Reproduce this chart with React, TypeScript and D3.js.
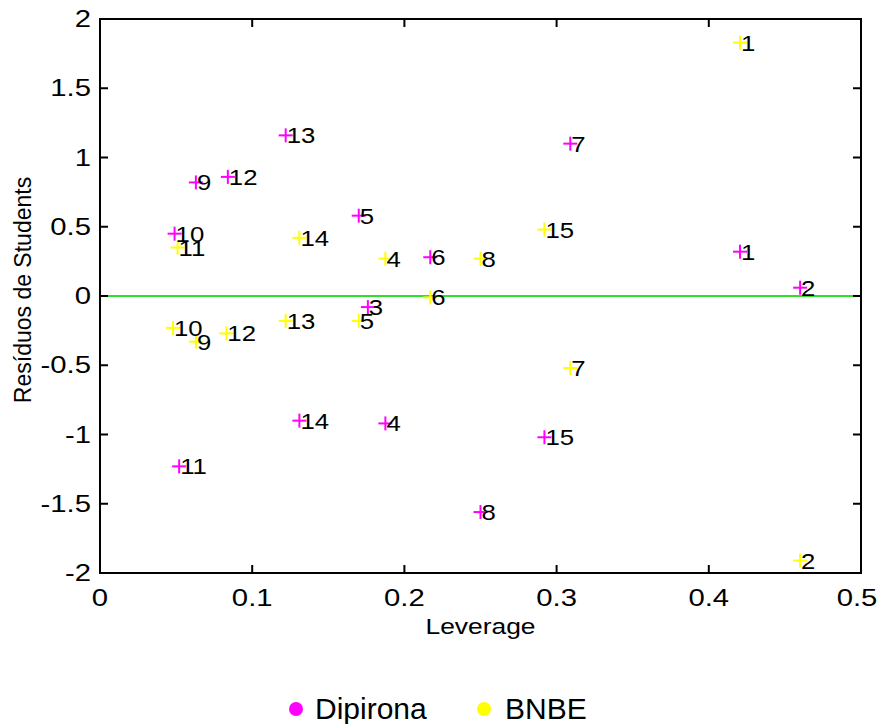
import React from "react";
import * as d3 from "d3";

const obsDipirona = ["1","2","3","4","5","6","7","8","9","10","11","12","13","14","15"];
const levDipirona = [0.4205,0.460,0.176,0.1875,0.170,0.217,0.309,0.250,0.063,0.049,0.052,0.084,0.122,0.131,0.292];
const resDipirona = [0.32,0.06,-0.08,-0.92,0.58,0.28,1.10,-1.56,0.82,0.45,-1.23,0.86,1.16,-0.90,-1.02];

const obsBNBE = ["1","2","4","5","6","7","8","9","10","11","12","13","14","15"];
const levBNBE = [0.4205,0.460,0.1875,0.170,0.217,0.309,0.250,0.063,0.048,0.051,0.083,0.122,0.131,0.292];
const resBNBE = [1.83,-1.91,0.27,-0.18,-0.01,-0.52,0.27,-0.33,-0.23,0.35,-0.27,-0.18,0.42,0.48];

const xTicks = [0,0.1,0.2,0.3,0.4,0.5];
const yTicks = [-2,-1.5,-1,-0.5,0,0.5,1,1.5,2];
const seriesNames = ["Dipirona","BNBE"];
const seriesColors = ["#ff00ff","#ffff00"];

const L = 100, R = 861, T = 19, B = 573;
const FONT = "Arial, 'Liberation Sans', Helvetica, sans-serif";
const SX = 1.22;

export default function App() {
  const x = d3.scaleLinear().domain([0, 0.5]).range([L, R]);
  const y = d3.scaleLinear().domain([-2, 2]).range([B, T]);
  const fmt = (v: number) => String(v);

  const series = [
    { obs: obsDipirona, lev: levDipirona, res: resDipirona, color: seriesColors[0] },
    { obs: obsBNBE, lev: levBNBE, res: resBNBE, color: seriesColors[1] },
  ];
  const arm = 7;

  return (
    <svg width={880} height={724} style={{ position: "absolute", left: 0, top: 0, background: "#fff" }}
      fontFamily={FONT}>
      <rect x={0} y={0} width={880} height={724} fill="#fff" />
      <line x1={L} x2={R} y1={y(0)} y2={y(0)} stroke="#2ee02e" strokeWidth={2} />
      {series.map((s, si) => (
        <g key={si}>
          {s.obs.map((o, i) => {
            const px = x(s.lev[i]), py = y(s.res[i]);
            return (
              <g key={i}>
                <line x1={px - arm} x2={px + arm} y1={py} y2={py} stroke={s.color} strokeWidth={2} />
                <line x1={px} x2={px} y1={py - arm} y2={py + arm} stroke={s.color} strokeWidth={2} />
              </g>
            );
          })}
        </g>
      ))}
      {series.map((s, si) => (
        <g key={"t" + si}>
          {s.obs.map((o, i) => {
            const px = x(s.lev[i]), py = y(s.res[i]);
            return (
              <g key={i} transform={`translate(${px + 1},${py}) scale(1.12,1)`}>
                <text x={0} y={8} fontSize={23} fill="#000">{o}</text>
              </g>
            );
          })}
        </g>
      ))}
      <rect x={L} y={T} width={R - L} height={B - T} fill="none" stroke="#000" strokeWidth={2} />
      {xTicks.map((t) => (
        <g key={"xt" + t}>
          <line x1={x(t)} x2={x(t)} y1={B} y2={B - 8} stroke="#000" strokeWidth={2} />
          <line x1={x(t)} x2={x(t)} y1={T} y2={T + 8} stroke="#000" strokeWidth={2} />
          <g transform={`translate(${Math.min(x(t), 857)},${B + 33}) scale(${SX},1)`}>
            <text textAnchor="middle" fontSize={24} fill="#000">{fmt(t)}</text>
          </g>
        </g>
      ))}
      {yTicks.map((t) => (
        <g key={"yt" + t}>
          <line x1={L} x2={L + 8} y1={y(t)} y2={y(t)} stroke="#000" strokeWidth={2} />
          <line x1={R} x2={R - 8} y1={y(t)} y2={y(t)} stroke="#000" strokeWidth={2} />
          <g transform={`translate(${L - 9},${y(t) + 8}) scale(${SX},1)`}>
            <text textAnchor="end" fontSize={24} fill="#000">{fmt(t)}</text>
          </g>
        </g>
      ))}
      <g transform={`translate(${(L + R) / 2},634) scale(1.2,1)`}>
        <text textAnchor="middle" fontSize={22} fill="#000">Leverage</text>
      </g>
      <g transform={`translate(31,${(T + B) / 2 - 6}) rotate(-90)`}>
        <text textAnchor="middle" fontSize={23} fill="#000">Resíduos de Students</text>
      </g>
      <g>
        <circle cx={296} cy={709} r={7} fill={seriesColors[0]} />
        <text x={315} y={719} fontSize={30} fill="#000">{seriesNames[0]}</text>
        <circle cx={484} cy={709} r={7} fill={seriesColors[1]} />
        <text x={505} y={719} fontSize={30} fill="#000">{seriesNames[1]}</text>
      </g>
    </svg>
  );
}
